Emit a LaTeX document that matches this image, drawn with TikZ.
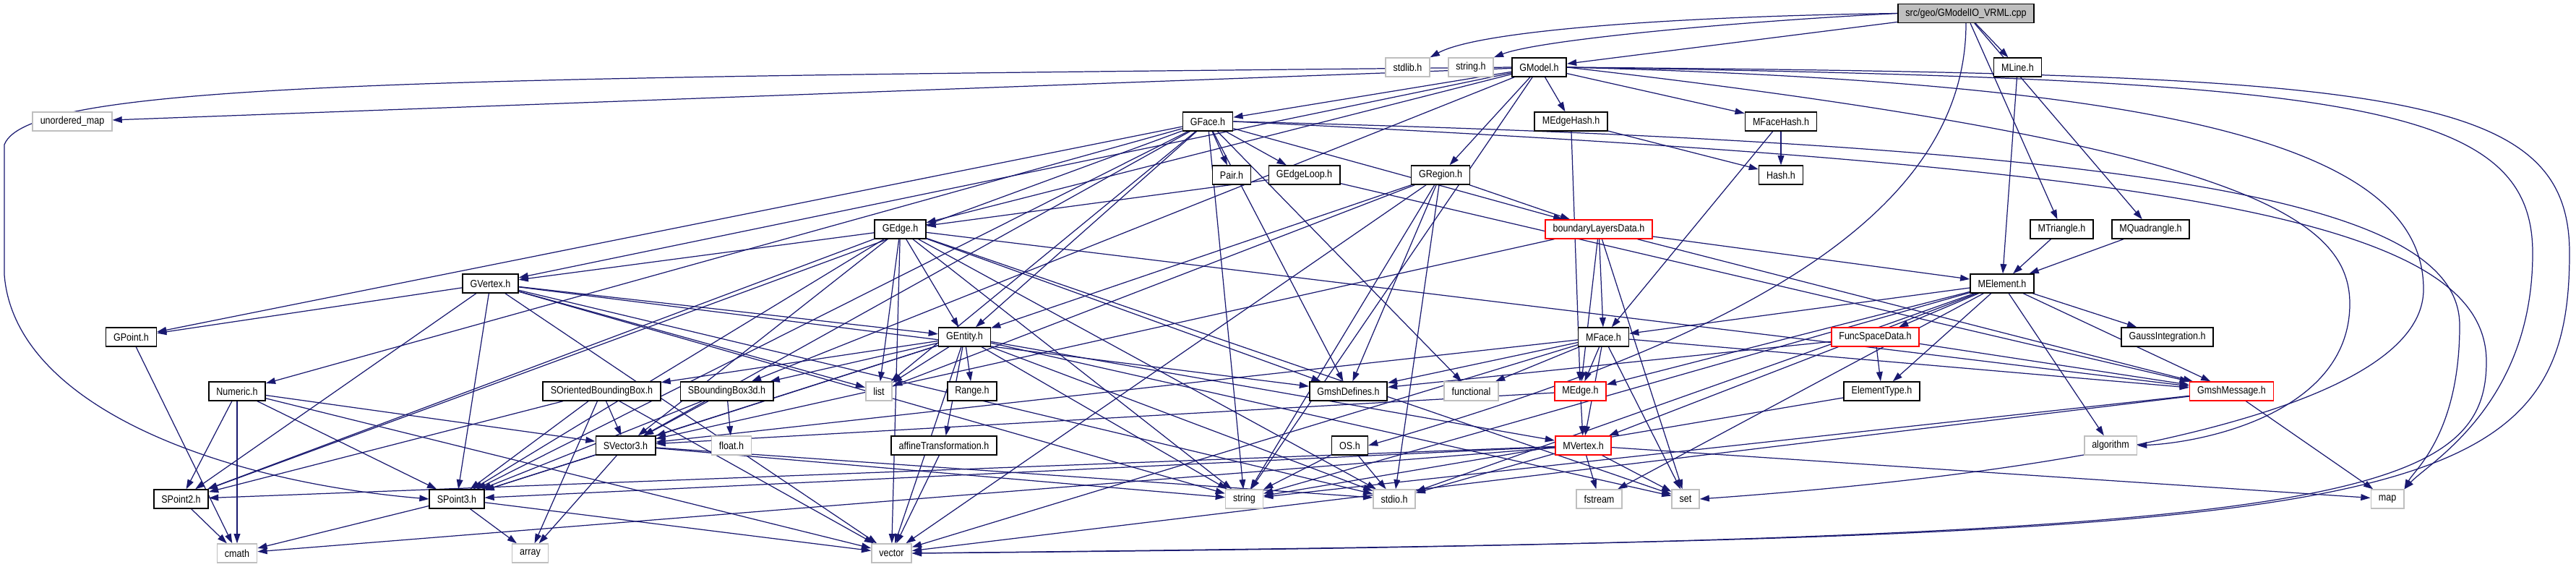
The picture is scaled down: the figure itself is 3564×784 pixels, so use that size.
\documentclass[tikz,border=0pt]{standalone}
\usepackage{fontspec}
\setmainfont{Liberation Sans}[FakeStretch=0.87]
\usetikzlibrary{arrows.meta,backgrounds}
\definecolor{depBlue}{RGB}{25,25,112}
\definecolor{sysGray}{RGB}{191,191,191}
\definecolor{cutRed}{RGB}{255,0,0}

\begin{document}
\begin{tikzpicture}[x=0.02cm,y=-0.02cm,
    incbox/.style={draw=black,line width=0.9pt,fill=white,font=\fontsize{8.2}{9}\selectfont,
      inner xsep=6pt,inner ysep=1pt,minimum height=14.7pt},
    sys/.style={incbox,draw=sysGray},
    cut/.style={incbox,draw=cutRed},
    dep/.style={depBlue,line width=0.7pt,-{Triangle[length=7.5pt,width=5pt]}}]
    \useasboundingbox (0,0) rectangle (3564,784);
    \node[incbox,fill=sysGray] (main) at (2720,18.5) {src/geo/GModelIO\_VRML.cpp};
    \foreach \nm/\lab/\x/\y in {gModel/GModel.h/2129.5/93, mLine/MLine.h/2791.5/93,
      gFace/GFace.h/1671/168, mEdgeHash/MEdgeHash.h/2173.5/168, mFaceHash/MFaceHash.h/2464/168,
      pairH/Pair.h/1704/242, gEdgeLoop/GEdgeLoop.h/1804.5/242, gRegion/GRegion.h/1993/242,
      hashH/Hash.h/2464/242, gEdge/GEdge.h/1245.5/317, mTriangle/MTriangle.h/2852.5/317,
      mQuadrangle/MQuadrangle.h/2975.5/317, gVertex/GVertex.h/678.5/392, mElement/MElement.h/2770/392,
      gPoint/GPoint.h/181.5/466, gEntity/GEntity.h/1334.5/466, mFace/MFace.h/2218.5/466,
      gaussInt/GaussIntegration.h/2998.5/466, numericH/Numeric.h/328/541,
      sOrientedBB/SOrientedBoundingBox.h/832.5/541, sBoundingBox/SBoundingBox3d.h/1005.5/541,
      rangeH/Range.h/1345/541, gmshDefines/GmshDefines.h/1865.5/541, elementType/ElementType.h/2603.5/541,
      sVector3/SVector3.h/865.5/616, affineTrans/affineTransformation.h/1306/616, osH/OS.h/1867.5/616,
      sPoint2/SPoint2.h/250.5/690, sPoint3/SPoint3.h/632/690}{
      \node[incbox] (\nm) at (\x,\y) {\lab};
    }
    \foreach \nm/\lab/\x/\y in {bLayers/boundaryLayersData.h/2212/317, funcSpace/FuncSpaceData.h/2594.5/466,
      mEdge/MEdge.h/2186.5/541, gmshMessage/GmshMessage.h/3087.5/541, mVertex/MVertex.h/2190.5/616}{
      \node[cut] (\nm) at (\x,\y) {\lab};
    }
    \foreach \nm/\lab/\x/\y in {stdlibH/stdlib.h/1947.5/93, stringH/string.h/2035/93,
      unorderedMap/unordered\_map/100/168, listH/list/1216/541, functionalH/functional/2035.5/541,
      floatH/float.h/1012/616, algorithmH/algorithm/2920/616, stringS/string/1721.5/690,
      stdioH/stdio.h/1929/690, fstreamH/fstream/2212.5/690, setH/set/2332/690, mapH/map/3303/690,
      cmathH/cmath/328/765, arrayH/array/733.5/765, vectorH/vector/1233.5/765}{
      \node[sys] (\nm) at (\x,\y) {\lab};
    }
    \begin{scope}[on background layer]
    \foreach \a/\b in {main/gModel, main/mLine, main/mTriangle, main/mQuadrangle,
      gModel/unorderedMap, gModel/gFace, gModel/gEdge, gModel/gVertex, gModel/gRegion, gModel/mEdgeHash,
      gModel/mFaceHash, gModel/sBoundingBox, gModel/stringS,
      gFace/gEntity, gFace/gPoint, gFace/gEdgeLoop, gFace/pairH, gFace/numericH, gFace/sPoint2, gFace/sPoint3,
      gFace/sVector3, gFace/bLayers, gFace/gmshDefines, gFace/listH, gFace/stringS, gFace/functionalH,
      gEdgeLoop/gEdge, gEdgeLoop/gmshMessage,
      gEdge/gEntity, gEdge/gVertex, gEdge/sVector3, gEdge/sPoint3, gEdge/sPoint2, gEdge/gmshDefines,
      gEdge/listH, gEdge/stringS, gEdge/vectorH, gEdge/setH, gEdge/stdioH, gEdge/gmshMessage,
      gVertex/gEntity, gVertex/gPoint, gVertex/sPoint2, gVertex/sPoint3, gVertex/gmshDefines, gVertex/listH,
      gVertex/stringS, gVertex/stdioH, gVertex/vectorH,
      gRegion/gEntity, gRegion/bLayers, gRegion/gmshDefines, gRegion/listH, gRegion/stringS, gRegion/stdioH,
      gRegion/vectorH,
      gEntity/rangeH, gEntity/affineTrans, gEntity/sBoundingBox, gEntity/sOrientedBB, gEntity/listH,
      gEntity/stringS, gEntity/vectorH, gEntity/setH, gEntity/stdioH, gEntity/sPoint3, gEntity/sVector3,
      gEntity/mVertex,
      bLayers/mElement, bLayers/mEdge, bLayers/mFace, bLayers/sVector3, bLayers/gmshMessage, bLayers/setH,
      mEdgeHash/hashH, mEdgeHash/mEdge, mFaceHash/hashH, mFaceHash/mFace,
      mLine/mElement, mTriangle/mElement, mQuadrangle/mElement,
      mElement/mFace, mElement/mEdge, mElement/mVertex, mElement/funcSpace, mElement/gaussInt,
      mElement/elementType, mElement/gmshMessage, mElement/algorithmH, mElement/fstreamH, mElement/stdioH,
      mElement/stringS,
      mFace/mVertex, mFace/mEdge, mFace/sVector3, mFace/gmshDefines, mFace/functionalH, mFace/gmshMessage,
      mFace/setH, mFace/vectorH,
      mEdge/mVertex, mEdge/sVector3,
      mVertex/sPoint2, mVertex/sPoint3, mVertex/stdioH, mVertex/fstreamH, mVertex/setH, mVertex/mapH,
      mVertex/cmathH,
      osH/stringS, osH/stdioH,
      funcSpace/elementType, funcSpace/gmshDefines, funcSpace/gmshMessage, elementType/stringS,
      gmshMessage/mapH, gmshMessage/stringS, gmshMessage/vectorH,
      numericH/cmathH, numericH/sPoint2, numericH/sPoint3, numericH/sVector3, numericH/vectorH,
      sOrientedBB/sPoint2, sOrientedBB/sPoint3, sOrientedBB/sVector3, sOrientedBB/vectorH, sOrientedBB/arrayH,
      sBoundingBox/floatH, sBoundingBox/sPoint3, sBoundingBox/sVector3,
      sVector3/sPoint3, sVector3/arrayH, sVector3/stringS, sVector3/stdioH,
      sPoint3/cmathH, sPoint3/arrayH, sPoint3/vectorH, sPoint2/cmathH, gPoint/cmathH, affineTrans/vectorH}{
      \draw[dep] (\a) -- (\b);
    }
    \draw[dep] (main.west) .. controls (2350,22) and (2050,40) .. (stdlibH.north east);
    \draw[dep] (main.west) .. controls (2400,30) and (2130,55) .. (stringH.north east);
    \draw[dep] (main.south) .. controls (2720,300) and (2400,470) .. (osH.east);
    \draw[dep] (gModel.west) .. controls (600,108) and (40,112) .. (6,200)
      -- (6,380) .. controls (20,560) and (300,665) .. (sPoint3.west);
    \draw[dep] (gModel.east) .. controls (3300,103) and (3555,120) .. (3555,350)
      .. controls (3555,725) and (3300,742) .. (vectorH.east);
    \draw[dep] (gModel.east) .. controls (3250,110) and (3504,140) .. (3504,350)
      .. controls (3504,560) and (3360,640) .. (mapH.north east);
    \draw[dep] (gModel.east) .. controls (3000,115) and (3353,200) .. (3353,400)
      .. controls (3353,610) and (2600,672) .. (setH.east);
    \draw[dep] (gModel.east) .. controls (3100,200) and (3251,300) .. (3251,420)
      .. controls (3251,570) and (3050,612) .. (algorithmH.east);
    \draw[dep] (gFace.east) .. controls (3000,200) and (3403,280) .. (3403,450)
      .. controls (3403,600) and (3340,650) .. (mapH.north east);
    \draw[dep] (gFace.east) .. controls (3000,230) and (3440,300) .. (3440,500)
      .. controls (3440,700) and (3200,748) .. (vectorH.east);
    \end{scope}
\end{tikzpicture}
\end{document}
